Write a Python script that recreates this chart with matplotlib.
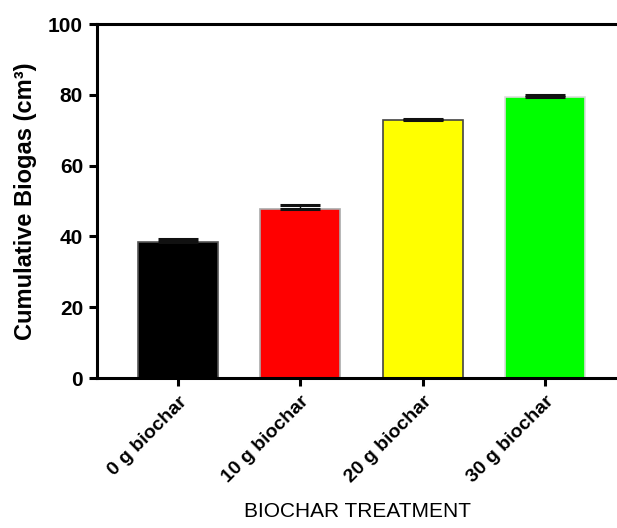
import matplotlib
matplotlib.use("Agg")
import matplotlib.pyplot as plt

categories = ["0 g biochar", "10 g biochar", "20 g biochar", "30 g biochar"]
values = [38.5, 47.7, 72.8, 79.4]
errors = [0.8, 1.1, 0.5, 0.5]
colors = ["#000000", "#ff0000", "#ffff00", "#00ff00"]
edgecolors = ["#555555", "#aaaaaa", "#444444", "#dddddd"]
yticks = [0, 20, 40, 60, 80, 100]

plt.rcParams['font.family'] = ['Liberation Sans', 'DejaVu Sans']

fig = plt.figure(figsize=(6.17, 5.28), dpi=100)
ax = fig.add_axes([97/617, 1-378/528, 1-97/617, (378-24)/528])

x = list(range(len(categories)))
ax.bar(x, values, width=0.654, color=colors, edgecolor=edgecolors, linewidth=1.2, zorder=2)
for xi, v, e in zip(x, values, errors):
    ax.errorbar(xi, v, yerr=[[0], [e]], fmt='none', ecolor='#111111', elinewidth=1.0,
                capsize=14.5, capthick=2.2, zorder=3)

ax.set_xlim(-0.662, 3.59)
ax.set_ylim(0, 100)
ax.set_yticks(yticks)
ax.set_xticks(x)
ax.set_xticklabels(categories, rotation=45, ha='right', rotation_mode='anchor',
                   fontsize=14, fontweight='bold')
for lab in ax.get_yticklabels():
    lab.set_fontsize(15)
    lab.set_fontweight('bold')

for s in ['left', 'bottom', 'top']:
    ax.spines[s].set_linewidth(2.2)
ax.spines['right'].set_visible(False)
ax.tick_params(axis='both', width=2.2, length=6, direction='out')
ax.tick_params(axis='y', pad=4)
ax.tick_params(axis='x', pad=5)

ax.set_ylabel("Cumulative Biogas (cm³)", fontsize=17, fontweight='bold', labelpad=8)
ax.set_xlabel("BIOCHAR TREATMENT", fontsize=15, labelpad=11)

fig.savefig("out.png", dpi=100)
